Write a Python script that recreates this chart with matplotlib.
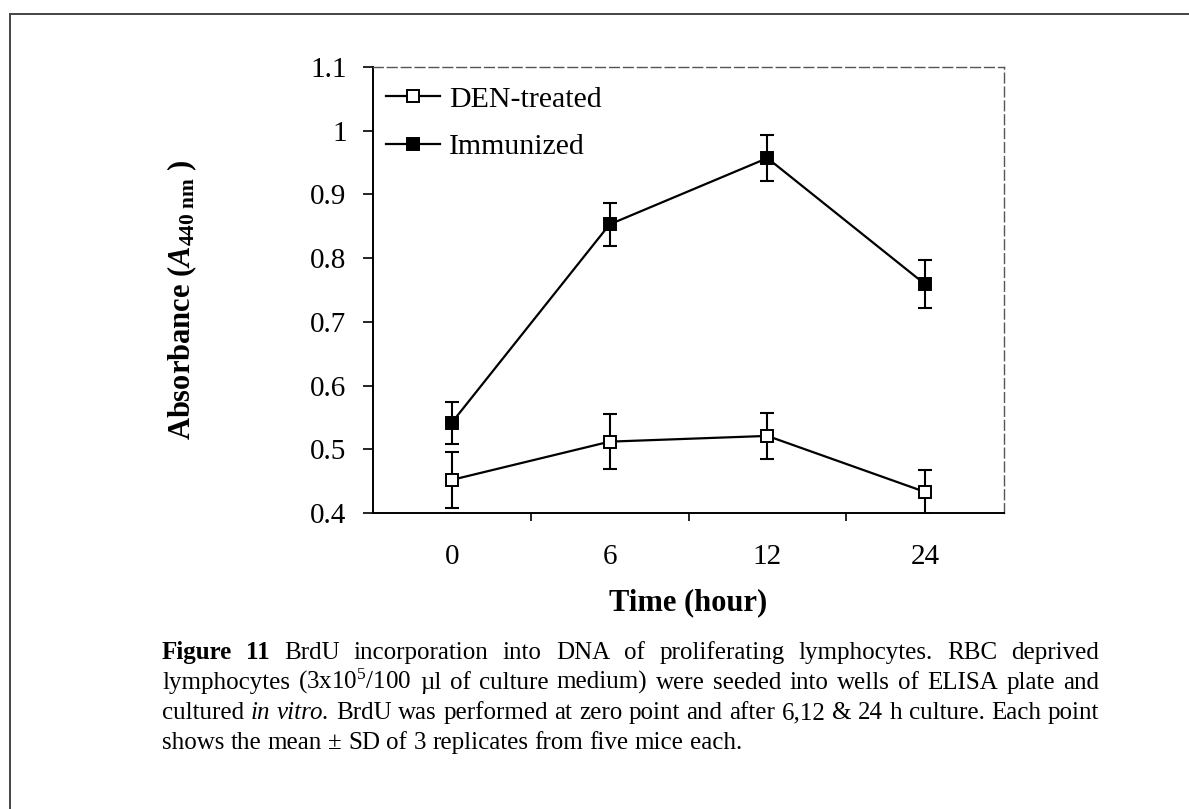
import matplotlib
matplotlib.use('Agg')
import matplotlib.pyplot as plt
from matplotlib.lines import Line2D
import numpy as np

plt.rcParams['font.family'] = ['Liberation Serif', 'DejaVu Serif']
plt.rcParams['mathtext.fontset'] = 'custom'
plt.rcParams['mathtext.rm'] = 'Liberation Serif'
plt.rcParams['mathtext.it'] = 'Liberation Serif:italic:bold'
plt.rcParams['mathtext.bf'] = 'Liberation Serif:bold'

# data
times = ['0', '6', '12', '24']
den_mean = [0.452, 0.512, 0.521, 0.433]
den_sd = [0.044, 0.043, 0.036, 0.035]
imm_mean = [0.542, 0.853, 0.957, 0.759]
imm_sd = [0.033, 0.034, 0.036, 0.038]
y_ticks = [0.4, 0.5, 0.6, 0.7, 0.8, 0.9, 1.0, 1.1]
y_tick_labels = ['0.4', '0.5', '0.6', '0.7', '0.8', '0.9', '1', '1.1']

# caption: '*' = bold word, '_' = italic word
caption = [
    '*Figure *11 BrdU incorporation into DNA of proliferating lymphocytes. RBC deprived',
    'lymphocytes (3x10$^5$/100 \u00b5l of culture medium) were seeded into wells of ELISA plate and',
    'cultured _in _vitro. BrdU was performed at zero point and after 6,12 & 24 h culture. Each point',
    'shows the mean \u00b1 SD of 3 replicates from five mice each.',
]

W, H = 1189, 809
fig = plt.figure(figsize=(W / 100, H / 100), dpi=100)
ax = fig.add_axes([373 / W, 1 - 513 / H, (1004 - 373) / W, (513 - 67) / H])

x = np.arange(len(times))
ax.errorbar(x, den_mean, yerr=den_sd, fmt='none', ecolor='black',
            elinewidth=1.5, capsize=4.7, capthick=1.5, zorder=2)
ax.errorbar(x, imm_mean, yerr=imm_sd, fmt='none', ecolor='black',
            elinewidth=1.5, capsize=4.7, capthick=1.5, zorder=2)
h1, = ax.plot(x, den_mean, '-s', color='black', mfc='white', mec='black',
              ms=9.3, mew=1.4, lw=1.6, label='DEN-treated', zorder=3)
h2, = ax.plot(x, imm_mean, '-s', color='black', mfc='black', mec='black',
              ms=9.3, mew=1.4, lw=1.6, label='Immunized', zorder=3)

ax.set_xlim(-0.5, 3.5)
ax.set_ylim(0.4, 1.1)
ax.set_yticks(y_ticks, y_tick_labels)
ax.set_xticks(x, times)
ax.set_xticks(x[:-1] + 0.5, minor=True)
ax.tick_params(axis='x', which='major', length=0, pad=22, labelsize=21)
ax.tick_params(axis='x', which='minor', length=6, width=1.2, direction='out')
ax.tick_params(axis='y', which='major', length=7, width=1.2, direction='out',
               pad=12, labelsize=21)

for s in ['left', 'bottom']:
    ax.spines[s].set_linewidth(1.4)
for s in ['top', 'right']:
    ax.spines[s].set_linestyle((0, (7, 3)))
    ax.spines[s].set_color('#555555')
    ax.spines[s].set_linewidth(1.0)

ax.set_xlabel('Time (hour)', fontsize=22, fontweight='bold')
ax.xaxis.set_label_coords(0.5, (513 - 603) / 446)
ax.xaxis.label.set_va('center')
ax.set_ylabel(r'Absorbance ($\mathit{A}_{\mathbf{440\ nm}}$ )', fontsize=22, fontweight='bold')
ax.yaxis.set_label_coords((182 - 373) / 631, (513 - 300) / 446)
ax.yaxis.label.set_va('center')

ax.legend(handles=[h1, h2], loc='upper left', bbox_to_anchor=(0.021, 0.958),
          frameon=False, fontsize=21.5, borderpad=0, borderaxespad=0,
          handlelength=1.8, handletextpad=0.3, labelspacing=0.7)

# page border (left and top only)
fig.add_artist(Line2D([10 / W, 10 / W], [0, 1 - 14 / H], transform=fig.transFigure,
                      color='#444444', lw=1.4))
fig.add_artist(Line2D([10 / W, 1], [1 - 14 / H, 1 - 14 / H], transform=fig.transFigure,
                      color='#444444', lw=1.4))

# justified caption
cap_size = 18
x0, x1 = 162, 1099
baselines = [659, 689, 719, 749]
r = fig.canvas.get_renderer()
for i, line in enumerate(caption):
    texts = []
    for w in line.split(' '):
        kw = {}
        if w.startswith('*'):
            w, kw = w[1:], {'fontweight': 'bold'}
        elif w.startswith('_'):
            w, kw = w[1:], {'fontstyle': 'italic'}
        t = fig.text(0, 1 - baselines[i] / H, w, fontsize=cap_size,
                     va='baseline', ha='left', **kw)
        texts.append(t)
    widths = [t.get_window_extent(r).width for t in texts]
    if i < len(caption) - 1:
        gap = (x1 - x0 - sum(widths)) / (len(texts) - 1)
    else:
        gap = 0.25 * cap_size * 100 / 72
    xp = x0
    for t, wd in zip(texts, widths):
        t.set_x(xp / W)
        xp += wd + gap

fig.savefig('out.png', dpi=100)
